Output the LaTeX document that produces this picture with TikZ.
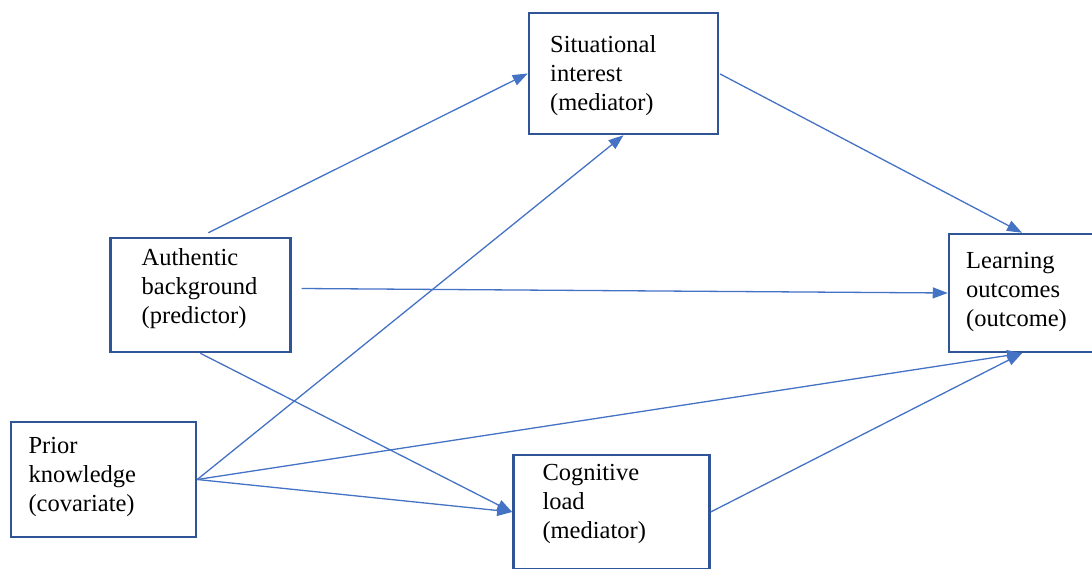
\documentclass[tikz,border=0pt]{standalone}
\usepackage{fontspec}
\setmainfont{Liberation Serif}
\usetikzlibrary{arrows.meta,calc}
\definecolor{boxblue}{RGB}{47,85,151}
\definecolor{linkblue}{RGB}{68,114,196}

\begin{document}
\begin{tikzpicture}[x=1pt,y=-1pt,
    factor/.style={draw=boxblue, line width=2.5pt, inner sep=0pt},
    boxtext/.style={anchor=north west, inner sep=0pt, align=left,
      font=\fontsize{24.5}{29}\selectfont},
    link/.style={draw=linkblue, line width=1.3pt, -{Triangle[length=15pt,width=11pt]}}]

  \clip (0,0) rectangle (1092,568);

  % boxes
  \node[factor, minimum width=189pt, minimum height=121pt] (sit) at (623.5,73.5) {};
  \node[factor, minimum width=180pt, minimum height=114pt] (auth) at (200.3,295) {};
  \node[factor, minimum width=146pt, minimum height=118pt] (learn) at (1022,293) {};
  \node[factor, minimum width=185pt, minimum height=115pt] (prior) at (103.5,479.5) {};
  \node[factor, minimum width=196pt, minimum height=114pt] (cog) at (611.4,512) {};

  % texts
  \node[boxtext] (sit-text) at (550,35.3) {Situational\\interest\\(mediator)};
  \node[boxtext] (auth-text) at (141.5,248.3) {Authentic\\background\\(predictor)};
  \node[boxtext] (learn-text) at (966,251.6) {Learning\\outcomes\\(outcome)};
  \node[boxtext] (prior-text) at (28.3,436.6) {Prior\\knowledge\\(covariate)};
  \node[boxtext] (cog-text) at (542.3,464.3) {Cognitive\\load\\(mediator)};

  % paths
  \draw[link, shorten <=9pt] (auth.north) -- (sit.west);
  \draw[link] ($(auth.east)+(10,-6.5)$) -- (learn.west);
  \draw[link] (auth.south) -- (cog.west);
  \draw[link] (prior.east) -- (sit.south);
  \draw[link] (prior.east) -- (learn.south);
  \draw[link] (prior.east) -- (cog.west);
  \draw[link, shorten <=1pt] (sit.east) -- (learn.north);
  \draw[link] (cog.east) -- (learn.south);
\end{tikzpicture}
\end{document}
